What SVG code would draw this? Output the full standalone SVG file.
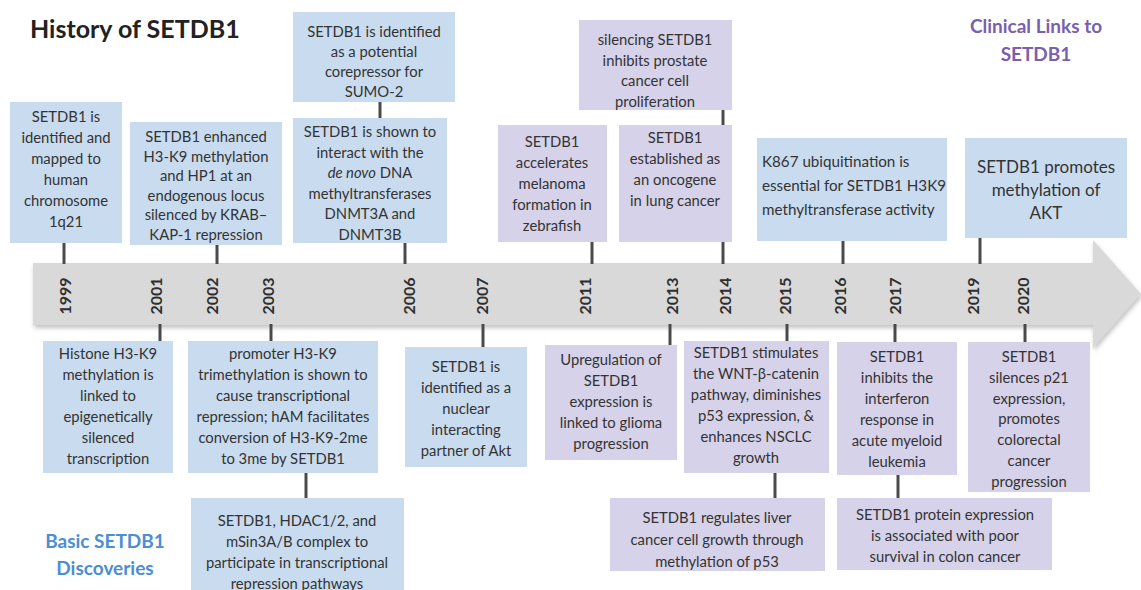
<svg xmlns="http://www.w3.org/2000/svg" width="1141" height="590" viewBox="0 0 1141 590">
<defs>
<filter id="sh" x="-5%" y="-20%" width="110%" height="150%">
<feDropShadow dx="1" dy="3" stdDeviation="2" flood-color="#888" flood-opacity="0.5"/>
</filter>
</defs>
<style>
text{font-family:Lato,"Open Sans","Liberation Sans",sans-serif;fill:#333}
.b{fill:#c9dcef}
.p{fill:#d6d2ea}
.t{font-size:14.8px;text-anchor:middle}
.yr{font-size:16px;font-weight:bold;text-anchor:middle;fill:#2e2e2e}
.c line{stroke:#4a4a4a;stroke-width:3}
.h{font-weight:bold;text-anchor:middle;font-size:19px}
</style>
<rect width="1141" height="590" fill="#fff"/>
<text x="30" y="38" style="font-size:25px;font-weight:bold;fill:#222">History of SETDB1</text>
<text class="h" style="fill:#7a5fae" x="1036" y="33">Clinical Links to</text>
<text class="h" style="fill:#7a5fae" x="1036" y="61">SETDB1</text>
<text class="h" style="fill:#4a8ed3" x="105" y="548">Basic SETDB1</text>
<text class="h" style="fill:#4a8ed3" x="105" y="575">Discoveries</text>

<g id="timeline">
<polygon points="33,263 1093,263 1093,240 1141,294 1093,348 1093,325 33,325" fill="#d9d9d9" filter="url(#sh)"/>
<text class="yr" transform="translate(65,296) rotate(-90)" dy="5.5">1999</text>
<text class="yr" transform="translate(156,296) rotate(-90)" dy="5.5">2001</text>
<text class="yr" transform="translate(212,296) rotate(-90)" dy="5.5">2002</text>
<text class="yr" transform="translate(268,296) rotate(-90)" dy="5.5">2003</text>
<text class="yr" transform="translate(409,296) rotate(-90)" dy="5.5">2006</text>
<text class="yr" transform="translate(482,296) rotate(-90)" dy="5.5">2007</text>
<text class="yr" transform="translate(585,296) rotate(-90)" dy="5.5">2011</text>
<text class="yr" transform="translate(672,296) rotate(-90)" dy="5.5">2013</text>
<text class="yr" transform="translate(725,296) rotate(-90)" dy="5.5">2014</text>
<text class="yr" transform="translate(785,296) rotate(-90)" dy="5.5">2015</text>
<text class="yr" transform="translate(840,296) rotate(-90)" dy="5.5">2016</text>
<text class="yr" transform="translate(895,296) rotate(-90)" dy="5.5">2017</text>
<text class="yr" transform="translate(973,296) rotate(-90)" dy="5.5">2019</text>
<text class="yr" transform="translate(1023,296) rotate(-90)" dy="5.5">2020</text>
</g>

<g id="connectors" class="c">
<line x1="64" y1="243" x2="64" y2="264"/>
<line x1="217" y1="245" x2="217" y2="264"/>
<line x1="405" y1="243" x2="405" y2="264"/>
<line x1="592" y1="242" x2="592" y2="264"/>
<line x1="723" y1="242" x2="723" y2="264"/>
<line x1="843" y1="241" x2="843" y2="264"/>
<line x1="980" y1="238" x2="980" y2="264"/>
<line x1="160" y1="324" x2="160" y2="341"/>
<line x1="271" y1="324" x2="271" y2="341"/>
<line x1="483" y1="324" x2="483" y2="347"/>
<line x1="670" y1="324" x2="670" y2="345"/>
<line x1="787" y1="324" x2="787" y2="341"/>
<line x1="895" y1="324" x2="895" y2="342"/>
<line x1="1025" y1="324" x2="1025" y2="342"/>
<line x1="380" y1="102" x2="380" y2="118"/>
<line x1="723" y1="110" x2="723" y2="125"/>
<line x1="306" y1="473" x2="306" y2="498"/>
<line x1="775" y1="473" x2="775" y2="498"/>
<line x1="898" y1="475" x2="898" y2="498"/>
</g>

<g id="n1999">
<rect class="b" x="10" y="102" width="112" height="141"/>
<text class="t" x="66" y="122"><tspan x="66">SETDB1 is</tspan><tspan x="66" dy="21">identified and</tspan><tspan x="66" dy="21">mapped to</tspan><tspan x="66" dy="21">human</tspan><tspan x="66" dy="21">chromosome</tspan><tspan x="66" dy="21">1q21</tspan></text>
</g>
<g id="n2002">
<rect class="b" x="130" y="122" width="152" height="123"/>
<text class="t" x="206" y="142"><tspan x="206">SETDB1 enhanced</tspan><tspan x="206" dy="19.6">H3-K9 methylation</tspan><tspan x="206" dy="19.6">and HP1 at an</tspan><tspan x="206" dy="19.6">endogenous locus</tspan><tspan x="206" dy="19.6">silenced by KRAB–</tspan><tspan x="206" dy="19.6">KAP-1 repression</tspan></text>
</g>
<g id="n2006a">
<rect class="b" x="293" y="12" width="162" height="90"/>
<text class="t" x="374" y="37"><tspan x="374">SETDB1 is identified</tspan><tspan x="374" dy="20">as a potential</tspan><tspan x="374" dy="20">corepressor for</tspan><tspan x="374" dy="20">SUMO-2</tspan></text>
</g>
<g id="n2006b">
<rect class="b" x="293" y="118" width="154" height="125"/>
<text class="t" x="370" y="137"><tspan x="370">SETDB1 is shown to</tspan><tspan x="370" dy="20.5">interact with the</tspan><tspan x="370" dy="20.5"><tspan font-style="italic">de novo</tspan> DNA</tspan><tspan x="370" dy="20.5">methyltransferases</tspan><tspan x="370" dy="20.5">DNMT3A and</tspan><tspan x="370" dy="20.5">DNMT3B</tspan></text>
</g>
<g id="n2014a">
<rect class="p" x="579" y="20" width="153" height="90"/>
<text class="t" x="655" y="45"><tspan x="655">silencing SETDB1</tspan><tspan x="655" dy="20.7">inhibits prostate</tspan><tspan x="655" dy="20.7">cancer cell</tspan><tspan x="655" dy="20.7">proliferation</tspan></text>
</g>
<g id="n2011">
<rect class="p" x="498" y="125" width="109" height="117"/>
<text class="t" x="552" y="147"><tspan x="552">SETDB1</tspan><tspan x="552" dy="21">accelerates</tspan><tspan x="552" dy="21">melanoma</tspan><tspan x="552" dy="21">formation in</tspan><tspan x="552" dy="21">zebrafish</tspan></text>
</g>
<g id="n2014b">
<rect class="p" x="619" y="125" width="113" height="117"/>
<text class="t" x="675" y="143"><tspan x="675">SETDB1</tspan><tspan x="675" dy="21">established as</tspan><tspan x="675" dy="21">an oncogene</tspan><tspan x="675" dy="21">in lung cancer</tspan></text>
</g>
<g id="n2016">
<rect class="b" x="757" y="138" width="190" height="103"/>
<text x="762" y="167" style="font-size:15.2px"><tspan x="762">K867 ubiquitination is</tspan><tspan x="762" dy="24">essential for SETDB1 H3K9</tspan><tspan x="762" dy="24">methyltransferase activity</tspan></text>
</g>
<g id="n2019">
<rect class="b" x="965" y="138" width="162" height="100"/>
<text class="t" x="1046" y="173" style="font-size:17px"><tspan x="1046">SETDB1 promotes</tspan><tspan x="1046" dy="23">methylation of</tspan><tspan x="1046" dy="23">AKT</tspan></text>
</g>

<g id="n2001">
<rect class="b" x="43" y="341" width="130" height="132"/>
<text class="t" x="108" y="359"><tspan x="108">Histone H3-K9</tspan><tspan x="108" dy="21">methylation is</tspan><tspan x="108" dy="21">linked to</tspan><tspan x="108" dy="21">epigenetically</tspan><tspan x="108" dy="21">silenced</tspan><tspan x="108" dy="21">transcription</tspan></text>
</g>
<g id="n2003">
<rect class="b" x="188" y="341" width="190" height="132"/>
<text class="t" x="283" y="359"><tspan x="283">promoter H3-K9</tspan><tspan x="283" dy="21">trimethylation is shown to</tspan><tspan x="283" dy="21">cause transcriptional</tspan><tspan x="283" dy="21">repression; hAM facilitates</tspan><tspan x="283" dy="21">conversion of H3-K9-2me</tspan><tspan x="283" dy="21">to 3me by SETDB1</tspan></text>
</g>
<g id="n2003b">
<rect class="b" x="191" y="498" width="213" height="92"/>
<text class="t" x="297" y="526"><tspan x="297">SETDB1, HDAC1/2, and</tspan><tspan x="297" dy="21">mSin3A/B complex to</tspan><tspan x="297" dy="21">participate in transcriptional</tspan><tspan x="297" dy="21">repression pathways</tspan></text>
</g>
<g id="n2007">
<rect class="b" x="405" y="347" width="122" height="120"/>
<text class="t" x="466" y="372"><tspan x="466">SETDB1 is</tspan><tspan x="466" dy="21">identified as a</tspan><tspan x="466" dy="21">nuclear</tspan><tspan x="466" dy="21">interacting</tspan><tspan x="466" dy="21">partner of Akt</tspan></text>
</g>
<g id="n2013">
<rect class="p" x="545" y="345" width="132" height="115"/>
<text class="t" x="611" y="365"><tspan x="611">Upregulation of</tspan><tspan x="611" dy="21">SETDB1</tspan><tspan x="611" dy="21">expression is</tspan><tspan x="611" dy="21">linked to glioma</tspan><tspan x="611" dy="21">progression</tspan></text>
</g>
<g id="n2015">
<rect class="p" x="684" y="341" width="145" height="132"/>
<text class="t" x="756" y="358"><tspan x="756">SETDB1 stimulates</tspan><tspan x="756" dy="21">the WNT-β-catenin</tspan><tspan x="756" dy="21">pathway, diminishes</tspan><tspan x="756" dy="21">p53 expression, &amp;</tspan><tspan x="756" dy="21">enhances NSCLC</tspan><tspan x="756" dy="21">growth</tspan></text>
</g>
<g id="n2015b">
<rect class="p" x="610" y="498" width="215" height="73"/>
<text class="t" x="717" y="523"><tspan x="717">SETDB1 regulates liver</tspan><tspan x="717" dy="22">cancer cell growth through</tspan><tspan x="717" dy="22">methylation of p53</tspan></text>
</g>
<g id="n2017">
<rect class="p" x="837" y="342" width="120" height="133"/>
<text class="t" x="897" y="362"><tspan x="897">SETDB1</tspan><tspan x="897" dy="21">inhibits the</tspan><tspan x="897" dy="21">interferon</tspan><tspan x="897" dy="21">response in</tspan><tspan x="897" dy="21">acute myeloid</tspan><tspan x="897" dy="21">leukemia</tspan></text>
</g>
<g id="n2017b">
<rect class="p" x="837" y="498" width="215" height="72"/>
<text class="t" x="945" y="520"><tspan x="945">SETDB1 protein expression</tspan><tspan x="945" dy="21">is associated with poor</tspan><tspan x="945" dy="21">survival in colon cancer</tspan></text>
</g>
<g id="n2020">
<rect class="p" x="968" y="342" width="122" height="150"/>
<text class="t" x="1029" y="362"><tspan x="1029">SETDB1</tspan><tspan x="1029" dy="20.8">silences p21</tspan><tspan x="1029" dy="20.8">expression,</tspan><tspan x="1029" dy="20.8">promotes</tspan><tspan x="1029" dy="20.8">colorectal</tspan><tspan x="1029" dy="20.8">cancer</tspan><tspan x="1029" dy="20.8">progression</tspan></text>
</g>
</svg>
